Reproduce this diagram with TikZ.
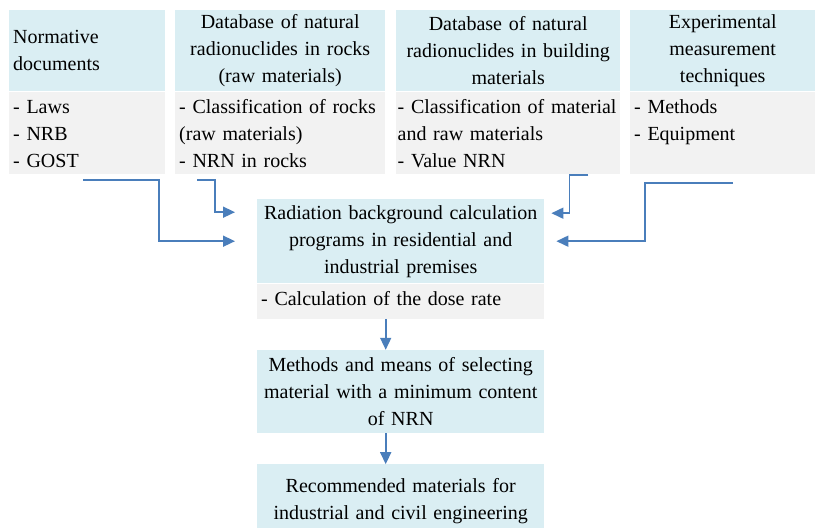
\documentclass[tikz,border=0pt]{standalone}
\usepackage{fontspec}
\setmainfont{Liberation Serif}
\usetikzlibrary{arrows.meta,positioning}
\definecolor{hd}{RGB}{218,238,243}
\definecolor{bd}{RGB}{242,242,242}
\definecolor{ln}{RGB}{74,126,187}
\tikzset{
  every node/.style={font=\fontsize{20}{27}\selectfont, inner xsep=4pt, inner ysep=0.5pt},
  % Felder: Kopf (blau) und Inhalt (grau)
  head/.style={fill=hd, text width=#1, minimum height=81pt, align=center},
  body/.style={fill=bd, text width=#1, align=left, text height=21.5pt, text depth=59.5pt},
  % Verbindungen
  link/.style={ln, line width=1.6pt, -{Triangle[length=12pt,width=11pt]}},
}
\begin{document}
\begin{tikzpicture}[x=1pt, y=1pt]
  \useasboundingbox (0,0) rectangle (815,528);
  % obere Reihe
  \node[head=148pt, align=left, anchor=north west] (nrm head) at (9,518) {Normative\\documents};
  \node[body=148pt, below=0pt of nrm head] (nrm body) {- Laws\\- NRB\\- GOST};
  \node[head=202pt, anchor=north west] (rock head) at (175,518) {Database of natural\\radionuclides in rocks\\(raw materials)};
  \node[body=202pt, below=0pt of rock head] (rock body) {- Classification of rocks\\(raw materials)\\- NRN in rocks};
  \node[head=216pt, anchor=north west] (bld head) at (396,518) {Database of natural\\radionuclides in building\\materials};
  \node[body=221pt, inner xsep=1.5pt, below=0pt of bld head] (bld body) {\mbox{- Classification of material}\\and raw materials\\- Value NRN};
  \node[head=177pt, anchor=north west] (exp head) at (630,518) {Experimental\\measurement\\techniques};
  \node[body=177pt, below=0pt of exp head] (exp body) {- Methods\\- Equipment};
  % mittlere Spalte
  \node[head=279pt, minimum height=84pt, anchor=north west] (calc head) at (257,329) {Radiation background calculation\\programs in residential and\\industrial premises};
  \node[body=279pt, text depth=12.5pt, below=0pt of calc head] (calc body) {- Calculation of the dose rate};
  \node[head=279pt, minimum height=83pt, below=31pt of calc body] (sel) {Methods and means of selecting\\material with a minimum content\\of NRN};
  \node[head=279pt, minimum height=74pt, below=31pt of sel] (rec) {Recommended materials for\\industrial and civil engineering};
  % Anschlusspunkte der Pfeile
  \coordinate (out1) at ([xshift=74pt, yshift=-6pt]nrm body.south west);
  \coordinate (out2) at ([xshift=22pt, yshift=-6pt]rock body.south west);
  \coordinate (out3) at ([xshift=-32pt, yshift=-1pt]bld body.south east);
  \coordinate (out4) at ([xshift=103pt, yshift=-9pt]exp body.south west);
  \coordinate (in1) at ([xshift=-22pt]calc head.west);
  \coordinate (in2) at ([xshift=-22pt, yshift=29pt]calc head.west);
  \coordinate (in3) at ([xshift=7pt, yshift=28pt]calc head.east);
  \coordinate (in4) at ([xshift=12pt]calc head.east);
  \draw[link] (out1) -- ++(76,0) |- (in1);
  \draw[link] (out2) -- ++(18,0) |- (in2);
  \draw[link] (out3) -- ++(-19,0) |- (in3);
  \draw[link] (out4) -- ++(-88,0) |- (in4);
  \draw[link] ([xshift=-15pt]calc body.south) -- ([xshift=-15pt]sel.north);
  \draw[link] ([xshift=-15pt]sel.south) -- ([xshift=-15pt]rec.north);
\end{tikzpicture}
\end{document}
